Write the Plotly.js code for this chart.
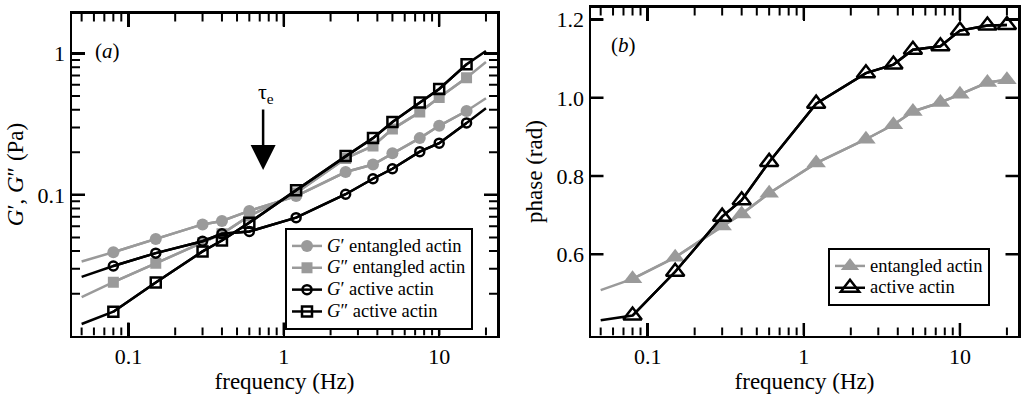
<!DOCTYPE html>
<html>
<head>
<meta charset="utf-8">
<script src="https://cdn.plot.ly/plotly-3.0.1.min.js"></script>
<style>html,body{margin:0;padding:0;background:#fff;}#chart{width:1030px;height:398px;}</style>
</head>
<body>
<div id="chart"></div>
<script>
// ---------- data ----------
// panel (a): moduli vs frequency
const freqA = [0.08, 0.15, 0.3, 0.4, 0.6, 1.2, 2.5, 3.75, 5, 7.5, 10, 15];
const freqEnds = [0.05, 20];            // line-only extension end points
const gpEntangled  = [0.0393, 0.0488, 0.0618, 0.0654, 0.077, 0.098, 0.145, 0.164, 0.197, 0.252, 0.308, 0.392];
const gpEntEnds    = [0.0338, 0.483];
const gppEntangled = [0.0241, 0.0328, 0.046, 0.053, 0.071, 0.103, 0.181, 0.222, 0.292, 0.385, 0.488, 0.673];
const gppEntEnds   = [0.0189, 0.87];
const gpActive     = [0.0314, 0.0387, 0.047, 0.053, 0.055, 0.069, 0.101, 0.130, 0.153, 0.202, 0.232, 0.323];
const gpActEnds    = [0.0263, 0.41];
const gppActive    = [0.0149, 0.024, 0.0398, 0.0475, 0.0636, 0.108, 0.188, 0.252, 0.328, 0.45, 0.561, 0.838];
const gppActEnds   = [0.0122, 1.04];

// panel (b): phase vs frequency
const freqB = [0.08, 0.15, 0.3, 0.4, 0.6, 1.2, 2.5, 3.75, 5, 7.5, 10, 15, 20];
const freqBStart = 0.05;
const phaseEntangled = [0.537, 0.592, 0.672, 0.703, 0.756, 0.833, 0.894, 0.931, 0.965, 0.988, 1.009, 1.039, 1.046];
const phaseEntStart = 0.508;
const phaseActive = [0.443, 0.555, 0.696, 0.738, 0.836, 0.985, 1.063, 1.085, 1.123, 1.132, 1.172, 1.185, 1.186];
const phaseActStart = 0.431;

const xTickVals = [0.1, 1, 10];
const xTickText = ['0.1', '1', '10'];
const yTickValsA = [0.1, 1];
const yTickTextA = ['0.1', '1'];
const yTickValsB = [0.6, 0.8, 1.0, 1.2];
const yTickTextB = ['0.6', '0.8', '1.0', '1.2'];

const namesA = ['<i>G</i>\u2032 entangled actin', '<i>G</i>\u2033 entangled actin',
                '<i>G</i>\u2032 active actin', '<i>G</i>\u2033 active actin'];
const namesB = ['entangled actin', 'active actin'];

// τe arrow location (frequency, modulus)
const arrowFreq = 0.736, arrowMod = 0.15;

// ---------- styling ----------
const GRAY = '#9a9a9a';
const FONT = '"Liberation Serif", "Times New Roman", serif';
const LW = 2.5;
const big = s => '<span style="font-size:18.5px">' + s + '</span>';

const W = 1030, H = 398;
const px = v => v / W, py = v => (H - v) / H;

// axis ranges (log units for log axes) and plot-area pixel extents
const X_RANGE = [-1.363, 1.372];
const YA_RANGE = [-1.995, 0.283];
const YB_RANGE = [0.392, 1.231];
const XA_PX = [72, 497], XB_PX = [591, 1018];
const YA_PX = [335.5, 13.5], YB_PX = [335.5, 7.5];

// minor tick positions on log axes: digits 2..9 of each decade, inside a log range
function logMinor(lo, hi, range) {
  const out = [];
  for (let e = lo; e <= hi; e++) for (let d = 2; d <= 9; d++) {
    const v = d * Math.pow(10, e), l = Math.log10(v);
    if (l > range[0] && l < range[1]) out.push(v);
  }
  return out;
}

function withEnds(xs, ys, xe, ye) {
  return { x: [xe[0]].concat(xs, [xe[1]]), y: [ye[0]].concat(ys, [ye[1]]) };
}

const traces = [];
function addSeries(xs, ys, xe, ye, name, color, marker, xa, ya, legend) {
  const full = withEnds(xs, ys, xe, ye);
  traces.push({ x: full.x, y: full.y, mode: 'lines', line: { color: color, width: LW },
    showlegend: false, hoverinfo: 'skip', xaxis: xa, yaxis: ya });
  traces.push({ x: xs, y: ys, mode: 'lines+markers', name: big(name),
    line: { color: color, width: LW }, marker: marker, xaxis: xa, yaxis: ya, legend: legend });
}

addSeries(freqA, gpEntangled, freqEnds, gpEntEnds, namesA[0], GRAY,
  { symbol: 'circle', size: 12, color: GRAY, line: { width: 0 } }, 'x', 'y', 'legend');
addSeries(freqA, gppEntangled, freqEnds, gppEntEnds, namesA[1], GRAY,
  { symbol: 'square', size: 11, color: GRAY, line: { width: 0 } }, 'x', 'y', 'legend');
addSeries(freqA, gpActive, freqEnds, gpActEnds, namesA[2], '#000',
  { symbol: 'circle-open', size: 9, color: '#000', line: { width: LW, color: '#000' } }, 'x', 'y', 'legend');
addSeries(freqA, gppActive, freqEnds, gppActEnds, namesA[3], '#000',
  { symbol: 'square-open', size: 10, color: '#000', line: { width: LW, color: '#000' } }, 'x', 'y', 'legend');

// panel b
traces.push({ x: [freqBStart].concat(freqB), y: [phaseEntStart].concat(phaseEntangled), mode: 'lines',
  line: { color: GRAY, width: LW }, showlegend: false, hoverinfo: 'skip', xaxis: 'x2', yaxis: 'y2' });
traces.push({ x: freqB, y: phaseEntangled, mode: 'lines+markers', name: big(namesB[0]),
  line: { color: GRAY, width: LW }, marker: { symbol: 'triangle-up', size: 17, color: GRAY, line: { width: 0 } },
  xaxis: 'x2', yaxis: 'y2', legend: 'legend2' });
traces.push({ x: [freqBStart].concat(freqB), y: [phaseActStart].concat(phaseActive), mode: 'lines',
  line: { color: '#000', width: LW }, showlegend: false, hoverinfo: 'skip', xaxis: 'x2', yaxis: 'y2' });
traces.push({ x: freqB, y: phaseActive, mode: 'lines+markers', name: big(namesB[1]),
  line: { color: '#000', width: LW }, marker: { symbol: 'triangle-up-open', size: 16, color: '#000', line: { width: LW, color: '#000' } },
  xaxis: 'x2', yaxis: 'y2', legend: 'legend2' });

// ---------- tick marks (inside, all four sides) drawn as thin line traces ----------
const xMinor = logMinor(-2, 1, X_RANGE);
const yMinorA = logMinor(-2, 0, YA_RANGE);

function axisInfo(range, pxExt, isLog) {
  const perPx = (range[1] - range[0]) / Math.abs(pxExt[1] - pxExt[0]);
  return { lo: range[0], hi: range[1], perPx: perPx, d: isLog ? (r => Math.pow(10, r)) : (r => r) };
}
const AX = {
  x: axisInfo(X_RANGE, XA_PX, true), x2: axisInfo(X_RANGE, XB_PX, true),
  y: axisInfo(YA_RANGE, YA_PX, true), y2: axisInfo(YB_RANGE, YB_PX, false)
};
function tickTrace(xa, ya, xVals, yVals, len, width) {
  const X = AX[xa], Y = AX[ya];
  const tx = [], ty = [];
  xVals.forEach(function(v) {
    tx.push(v, v, null, v, v, null);
    ty.push(Y.d(Y.lo), Y.d(Y.lo + len * Y.perPx), null, Y.d(Y.hi), Y.d(Y.hi - len * Y.perPx), null);
  });
  yVals.forEach(function(v) {
    tx.push(X.d(X.lo), X.d(X.lo + len * X.perPx), null, X.d(X.hi), X.d(X.hi - len * X.perPx), null);
    ty.push(v, v, null, v, v, null);
  });
  traces.push({ x: tx, y: ty, mode: 'lines', line: { color: '#000', width: width },
    showlegend: false, hoverinfo: 'skip', connectgaps: false, cliponaxis: false,
    xaxis: xa, yaxis: ya });
}
tickTrace('x', 'y', xTickVals, yTickValsA, 13, LW);
tickTrace('x', 'y', xMinor, yMinorA, 8, 2);
tickTrace('x2', 'y2', xTickVals, yTickValsB, 12.5, LW);
tickTrace('x2', 'y2', xMinor, [], 8, 2);

const tickFont = { family: FONT, size: 22, color: '#000' };
const titleFont = { family: FONT, size: 23, color: '#000' };

function logX(pxExt) {
  return {
    type: 'log', domain: [px(pxExt[0]), px(pxExt[1])], range: X_RANGE,
    tickmode: 'array', tickvals: xTickVals, ticktext: xTickText,
    ticks: 'inside', ticklen: 13, tickwidth: LW, tickcolor: '#000',
    showline: true, linewidth: LW, linecolor: '#000', mirror: 'allticks',
    showgrid: false, zeroline: false, tickfont: tickFont,
    title: { text: 'frequency (Hz)', font: titleFont, standoff: 4 }
  };
}

const legendBase = {
  xanchor: 'left', yanchor: 'top', bordercolor: '#000', borderwidth: 2, bgcolor: '#fff',
  font: { family: FONT, size: 14.5, color: '#000' }, tracegroupgap: 0
};

const layout = {
  width: W, height: H,
  margin: { l: 0, r: 0, t: 0, b: 0 },
  font: { family: FONT, color: '#000' },
  xaxis: logX(XA_PX),
  yaxis: {
    type: 'log', domain: [py(YA_PX[0]), py(YA_PX[1])], range: YA_RANGE, anchor: 'x',
    tickmode: 'array', tickvals: yTickValsA, ticktext: yTickTextA,
    ticks: 'inside', ticklen: 13, tickwidth: LW, tickcolor: '#000',
    showline: true, linewidth: LW, linecolor: '#000', mirror: 'allticks',
    showgrid: false, zeroline: false, tickfont: tickFont,
    title: { text: '<i>G</i>\u2032, <i>G</i>\u2033 (Pa)', font: titleFont, standoff: 8 }
  },
  xaxis2: Object.assign(logX(XB_PX), { anchor: 'y2' }),
  yaxis2: {
    domain: [py(YB_PX[0]), py(YB_PX[1])], range: YB_RANGE, anchor: 'x2',
    tickmode: 'array', tickvals: yTickValsB, ticktext: yTickTextB,
    ticks: 'inside', ticklen: 12, tickwidth: LW, tickcolor: '#000',
    showline: true, linewidth: LW, linecolor: '#000', mirror: 'allticks',
    showgrid: false, zeroline: false, tickfont: tickFont,
    title: { text: 'phase (rad)', font: titleFont, standoff: 8 }
  },
  legend: Object.assign({ x: px(285), y: py(228) }, legendBase),
  legend2: Object.assign({ x: px(828), y: py(248) }, legendBase),
  annotations: [
    { xref: 'paper', yref: 'paper', x: px(107), y: py(51), xanchor: 'center', yanchor: 'middle',
      text: '(<i>a</i>)', showarrow: false, font: { family: FONT, size: 21, color: '#000' } },
    { xref: 'paper', yref: 'paper', x: px(623), y: py(45), xanchor: 'center', yanchor: 'middle',
      text: '(<i>b</i>)', showarrow: false, font: { family: FONT, size: 21, color: '#000' } },
    { xref: 'paper', yref: 'paper', x: px(266), y: py(93), xanchor: 'center', yanchor: 'middle',
      text: '\u03c4<sub>e</sub>', showarrow: false, font: { family: FONT, size: 22, color: '#000' } },
    { xref: 'x', yref: 'y', x: Math.log10(arrowFreq), y: Math.log10(arrowMod), text: '',
      showarrow: true, arrowhead: 2, arrowsize: 2, arrowwidth: 2.5, arrowcolor: '#000',
      ax: 0, ay: -62 }
  ],
  showlegend: true
};

Plotly.newPlot('chart', traces, layout, { staticPlot: true, displayModeBar: false });
</script>
</body>
</html>
